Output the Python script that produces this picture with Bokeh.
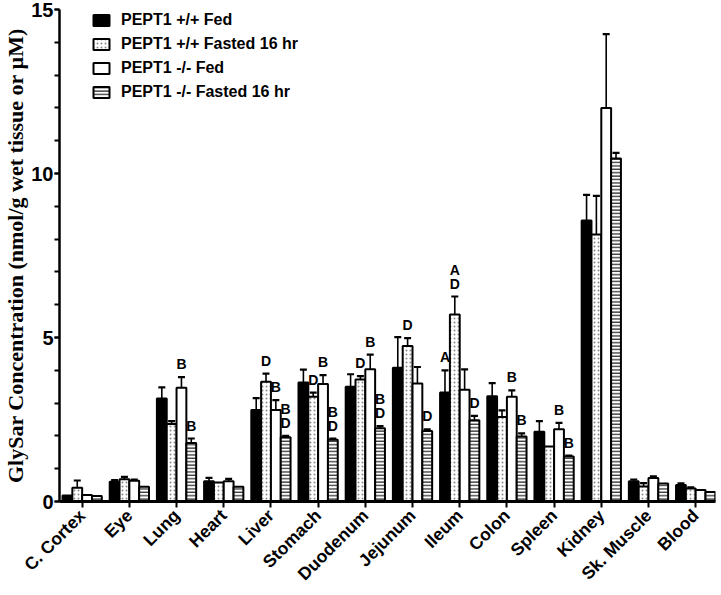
import math
from bokeh.plotting import figure
from bokeh.models import (ColumnDataSource, Range1d, FixedTicker, Whisker, TeeHead,
                          Legend, LegendItem)
from bokeh.core.properties import value
from bokeh.embed import file_html
from bokeh.resources import INLINE

categories = ["C. Cortex", "Eye", "Lung", "Heart", "Liver", "Stomach", "Duodenum",
              "Jejunum", "Ileum", "Colon", "Spleen", "Kidney", "Sk. Muscle", "Blood"]

series_names = ["PEPT1 +/+ Fed", "PEPT1 +/+ Fasted 16 hr", "PEPT1 -/- Fed", "PEPT1 -/- Fasted 16 hr"]

wt_fed = [0.18, 0.60, 3.14, 0.62, 2.79, 3.63, 3.50, 4.08, 3.32, 3.21, 2.13, 8.57, 0.62, 0.50]
wt_fed_err = [0.0, 0.05, 0.34, 0.10, 0.36, 0.39, 0.38, 0.93, 0.68, 0.40, 0.32, 0.78, 0.05, 0.05]
wt_fast = [0.42, 0.68, 2.36, 0.58, 3.65, 3.19, 3.72, 4.74, 5.70, 2.58, 1.68, 8.14, 0.46, 0.40]
wt_fast_err = [0.22, 0.07, 0.09, 0.0, 0.25, 0.13, 0.10, 0.24, 0.55, 0.20, 0.0, 1.18, 0.10, 0.03]
ko_fed = [0.20, 0.63, 3.47, 0.62, 2.79, 3.58, 4.03, 3.60, 3.41, 3.19, 2.20, 12.0, 0.72, 0.35]
ko_fed_err = [0.0, 0.04, 0.32, 0.07, 0.30, 0.27, 0.45, 0.50, 0.62, 0.20, 0.20, 2.25, 0.05, 0.0]
ko_fast = [0.17, 0.45, 1.78, 0.45, 1.96, 1.88, 2.23, 2.15, 2.48, 1.98, 1.37, 10.46, 0.55, 0.29]
ko_fast_err = [0.0, 0.0, 0.14, 0.0, 0.04, 0.04, 0.07, 0.05, 0.13, 0.10, 0.03, 0.17, 0.0, 0.0]

# significance letters: category index, series index, letters (top to bottom)
ann_cat = [2, 2, 4, 4, 4, 5, 5, 5, 6, 6, 6, 7, 7, 8, 8, 8, 9, 9, 10, 10]
ann_series = [2, 3, 1, 2, 3, 1, 2, 3, 1, 2, 3, 1, 3, 0, 1, 3, 2, 3, 2, 3]
ann_text = ["B", "B", "D", "B", "B\nD", "D", "B", "B\nD", "D", "B", "B\nD", "D", "D",
            "A", "A\nD", "D", "B", "B", "B", "B"]

values = [wt_fed, wt_fast, ko_fed, ko_fast]
errors = [wt_fed_err, wt_fast_err, ko_fed_err, ko_fast_err]

BAR_W = 0.208
offsets = [-1.5 * BAR_W, -0.5 * BAR_W, 0.5 * BAR_W, 1.5 * BAR_W]

SANS = "Liberation Sans"

p = figure(width=717, height=594, x_range=Range1d(-0.48, 13.42), y_range=Range1d(0, 15),
           output_backend="svg", toolbar_location=None,
           min_border_left=59, min_border_right=2, min_border_top=9, min_border_bottom=92)
p.outline_line_color = None
p.xgrid.visible = False
p.ygrid.visible = False
p.background_fill_color = "white"

styles = [
    dict(fill_color="black"),
    dict(fill_color="white", hatch_pattern="dot", hatch_color="#8a8a8a", hatch_scale=4, hatch_weight=1.2),
    dict(fill_color="white"),
    dict(fill_color="white", hatch_pattern="horizontal_line", hatch_color="#222222", hatch_scale=3.4, hatch_weight=1.2),
]

xs_idx = list(range(len(categories)))
renderers = []
for s in range(4):
    src = ColumnDataSource(dict(x=[i + offsets[s] for i in xs_idx], top=values[s]))
    r = p.vbar(x="x", top="top", width=BAR_W, bottom=0, source=src,
               line_color="black", line_width=2, **styles[s])
    renderers.append(r)
    ex, up, lo = [], [], []
    for i in xs_idx:
        if errors[s][i] > 0:
            ex.append(i + offsets[s])
            lo.append(values[s][i])
            up.append(values[s][i] + errors[s][i])
    esrc = ColumnDataSource(dict(x=ex, upper=up, lower=lo))
    w = Whisker(base="x", upper="upper", lower="lower", source=esrc, dimension="height",
                line_width=1.6, line_color="black",
                upper_head=TeeHead(size=7, line_width=2.2, line_color="black"), lower_head=None)
    p.add_layout(w)

# annotations
ax, ay, at, aoff = [], [], [], []
for c, s, t in zip(ann_cat, ann_series, ann_text):
    letters = t.split("\n")
    top = values[s][c] + errors[s][c]
    n = len(letters)
    for k, L in enumerate(letters):
        level = n - 1 - k
        ax.append(c + offsets[s])
        ay.append(top)
        at.append(L)
        aoff.append(-(13 + 14 * level))
asrc = ColumnDataSource(dict(x=ax, y=ay, text=at, yo=aoff))
p.text(x="x", y="y", text="text", y_offset="yo", source=asrc, text_align="center",
       text_baseline="middle", text_font=value(SANS), text_font_style="bold",
       text_font_size="14px", text_color="black")

# axes
xa = p.xaxis[0]
xa.ticker = FixedTicker(ticks=xs_idx)
xa.major_label_overrides = {i: c for i, c in enumerate(categories)}
xa.major_label_orientation = math.pi / 4
xa.major_label_text_font = SANS
xa.major_label_text_font_style = "bold"
xa.major_label_text_font_size = "17.5px"
xa.major_label_text_color = "black"
xa.axis_line_width = 3
xa.axis_line_color = "black"
xa.major_tick_line_width = 2
xa.major_tick_out = 6
xa.major_tick_in = 0
xa.minor_tick_line_color = None
xa.major_label_standoff = 5

ya = p.yaxis[0]
ya.ticker = FixedTicker(ticks=[0, 5, 10, 15], minor_ticks=list(range(0, 16)))
ya.major_label_text_font = SANS
ya.major_label_text_font_style = "bold"
ya.major_label_text_font_size = "20px"
ya.major_label_text_color = "black"
ya.axis_line_width = 2.5
ya.axis_line_color = "black"
ya.major_tick_line_width = 2
ya.major_tick_out = 5
ya.major_tick_in = 0
ya.minor_tick_line_width = 2
ya.minor_tick_out = 5
ya.minor_tick_in = 0
ya.major_label_standoff = 1
ya.axis_label = "GlySar Concentration (nmol/g wet tissue or \u00b5M)"
ya.axis_label_text_font = "Liberation Serif"
ya.axis_label_text_font_style = "bold"
ya.axis_label_text_font_size = "22px"
ya.axis_label_text_color = "black"
ya.axis_label_standoff = 0

legend = Legend(items=[LegendItem(label=series_names[s], renderers=[renderers[s]]) for s in range(4)],
                location=(32, 400), glyph_width=20, glyph_height=14, label_height=14,
                spacing=6, padding=0, margin=0, label_standoff=10,
                label_text_font=SANS, label_text_font_style="bold", label_text_font_size="16px",
                label_text_color="black", border_line_color=None, background_fill_alpha=0)
p.add_layout(legend)

open("out.html", "w").write(file_html(p, INLINE))
